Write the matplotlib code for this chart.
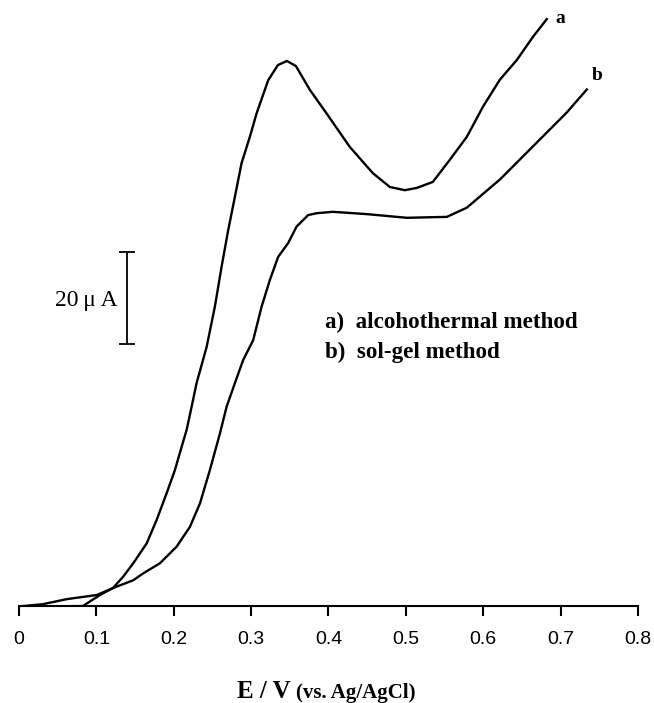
import numpy as np
import matplotlib
matplotlib.use("Agg")
import matplotlib.pyplot as plt

# potential (V vs Ag/AgCl) and current (uA)
e_a = [0, 0.0401, 0.0827, 0.1047, 0.1214, 0.1348, 0.1477, 0.1650, 0.1779, 0.1908,
       0.2016, 0.2102, 0.2167, 0.2231, 0.2296, 0.2425, 0.2532, 0.2619, 0.2704, 0.2791,
       0.2877, 0.2984, 0.3071, 0.3221, 0.3346, 0.3463, 0.3579, 0.3760, 0.3975, 0.4276,
       0.4574, 0.4793, 0.4987, 0.5142, 0.5349, 0.5568, 0.5788, 0.5995, 0.6214, 0.6434,
       0.6641, 0.6822]
i_a = [0, 0, 0.1, 2.5, 4.0, 6.5, 9.4, 13.7, 18.8, 24.6,
       29.7, 34.7, 38.4, 43.4, 48.6, 56.4, 65.2, 73.9, 81.8, 89.1,
       96.4, 102.1, 107.2, 114.4, 117.7, 118.6, 117.5, 112.3, 107.2, 99.9,
       94.2, 91.2, 90.5, 91.0, 92.3, 97.1, 102.1, 108.6, 114.5, 118.8,
       123.8, 127.7]

e_b = [0, 0.0310, 0.0620, 0.1008, 0.1214, 0.1477, 0.1606, 0.1822, 0.2037, 0.2209,
       0.2339, 0.2468, 0.2597, 0.2683, 0.2804, 0.2898, 0.3027, 0.3136, 0.3243, 0.3350,
       0.3479, 0.3588, 0.3738, 0.3850, 0.4057, 0.4496, 0.5013, 0.5530, 0.5788, 0.6214,
       0.6641, 0.7080, 0.7339]
i_b = [0, 0.5, 1.6, 2.5, 4.0, 5.7, 7.2, 9.4, 13.0, 17.3,
       22.4, 29.7, 37.6, 43.4, 49.2, 53.6, 57.9, 65.2, 71.0, 76.0,
       79.0, 82.6, 85.1, 85.5, 85.8, 85.3, 84.5, 84.7, 86.7, 92.8,
       100.0, 107.4, 112.4]

xticks = [0, 0.1, 0.2, 0.3, 0.4, 0.5, 0.6, 0.7, 0.8]
xticklabels = ["0", "0.1", "0.2", "0.3", "0.4", "0.5", "0.6", "0.7", "0.8"]

scale_x = 0.1395
scale_mid = 67.0
scale_len = 20  # uA

fig = plt.figure(figsize=(6.54, 7.03), dpi=100)
ax = fig.add_axes([0.029, 0.1373, 0.9465, 0.8506])

ax.plot(e_a, i_a, color="black", lw=1.7, solid_joinstyle="round")
ax.plot(e_b, i_b, color="black", lw=1.7, solid_joinstyle="round")

# 20 uA scale bar
ax.errorbar([scale_x], [scale_mid], yerr=scale_len / 2, color="black",
            lw=1.3, capsize=6, capthick=1.3)
ax.text(scale_x - 0.0115, scale_mid - 0.4, "20\u2009\u03bc\u2009A", ha="right",
        va="center", fontsize=17, family="Liberation Serif")

serif_bold = dict(family="Liberation Serif", weight="bold")
ax.text(0.699, 127.9, "a", ha="center", va="center", fontsize=14, **serif_bold)
ax.text(0.7468, 115.5, "b", ha="center", va="center", fontsize=14, **serif_bold)
ax.text(0.3953, 61.8, "a)  alcohothermal method", ha="left", va="center",
        fontsize=16.6, **serif_bold)
ax.text(0.3953, 55.3, "b)  sol-gel method", ha="left", va="center",
        fontsize=16.6, **serif_bold)

ax.set_xlim(0, 0.8)
ax.set_ylim(0, 130)
ax.set_xticks(xticks)
ax.set_xticklabels(xticklabels, family="Liberation Sans", fontsize=14)
ax.set_yticks([])
for s in ["left", "right", "top"]:
    ax.spines[s].set_visible(False)
ax.spines["bottom"].set_linewidth(1.5)
ax.tick_params(axis="x", direction="out", length=7, width=1.5, pad=11)

fig.text(237 / 654, 1 - 692 / 703, "E / V", ha="left", va="center",
         fontsize=18, **serif_bold)
fig.text(296 / 654, 1 - 693 / 703, "(vs. Ag/AgCl)", ha="left", va="center",
         fontsize=15, **serif_bold)

fig.savefig("out.png", dpi=100)
